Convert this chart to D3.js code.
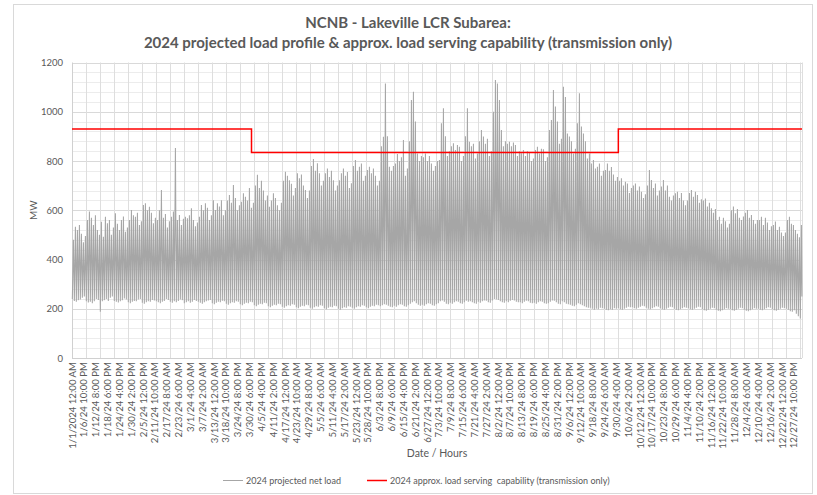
<!DOCTYPE html>
<html>
<meta charset="utf-8">
<head>
  <script src="https://d3js.org/d3.v7.js"></script>
  <style>
    body { margin: 0; background: #fff; }
    text { font-family: Lato, "Open Sans", sans-serif; fill: #595959; }
  </style>
</head>
<body>
<svg id="chart" width="817" height="495"></svg>
<script>
// hourly axis labels, one every 142 hours
var tickLabels = ["1/1/2024 12:00 AM","1/6/24 10:00 PM","1/12/24 8:00 PM","1/18/24 6:00 PM","1/24/24 4:00 PM","1/30/24 2:00 PM",
  "2/5/24 12:00 PM","2/11/24 10:00 AM","2/17/24 8:00 AM","2/23/24 6:00 AM","3/1/24 4:00 AM","3/7/24 2:00 AM",
  "3/13/24 12:00 AM","3/18/24 10:00 PM","3/24/24 8:00 PM","3/30/24 6:00 PM","4/5/24 4:00 PM","4/11/24 2:00 PM",
  "4/17/24 12:00 PM","4/23/24 10:00 AM","4/29/24 8:00 AM","5/5/24 6:00 AM","5/11/24 4:00 AM","5/17/24 2:00 AM",
  "5/23/24 12:00 AM","5/28/24 10:00 PM","6/3/24 8:00 PM","6/9/24 6:00 PM","6/15/24 4:00 PM","6/21/24 2:00 PM",
  "6/27/24 12:00 PM","7/3/24 10:00 AM","7/9/24 8:00 AM","7/15/24 6:00 AM","7/21/24 4:00 AM","7/27/24 2:00 AM",
  "8/2/24 12:00 AM","8/7/24 10:00 PM","8/13/24 8:00 PM","8/19/24 6:00 PM","8/25/24 4:00 PM","8/31/24 2:00 PM",
  "9/6/24 12:00 PM","9/12/24 10:00 AM","9/18/24 8:00 AM","9/24/24 6:00 AM","9/30/24 4:00 AM","10/6/24 2:00 AM",
  "10/12/24 12:00 AM","10/17/24 10:00 PM","10/23/24 8:00 PM","10/29/24 6:00 PM","11/4/24 4:00 PM","11/10/24 2:00 PM",
  "11/16/24 12:00 PM","11/22/24 10:00 AM","11/28/24 8:00 AM","12/4/24 6:00 AM","12/10/24 4:00 AM","12/16/24 2:00 AM",
  "12/22/24 12:00 AM","12/27/24 10:00 PM"];
var labelStep = 142;   // hours between labels
var gridStep = 168;    // hours between vertical gridlines
var totalHours = 8760;

// daily peak load (MW), one row of 7 days per week
var dailyPeak = [
  480,533,520,540,505,470,495, 560,595,570,540,580,520,500, 553,492,574,547,560,500,530,
  588,545,520,560,575,513,530, 560,601,580,574,590,540,555, 621,628,600,614,590,547,570,
  560,600,682,570,585,530,555, 574,595,853,560,581,540,565, 574,567,580,608,560,535,550,
  574,621,600,628,610,560,580, 641,601,628,615,641,580,600, 640,662,630,703,650,600,620,
  635,669,655,640,690,610,630, 700,744,690,720,680,640,660, 614,640,669,650,620,600,630,
  720,756,740,722,708,660,690, 750,730,745,700,682,650,680, 780,808,760,791,750,700,720,
  750,770,735,760,722,680,700, 722,750,770,740,755,690,710, 780,804,760,777,790,720,740,
  763,777,750,770,740,700,720, 860,898,1115,900,777,760,780, 790,828,800,815,885,740,770,
  880,1048,1081,960,830,800,820, 815,830,800,820,790,760,780, 800,804,953,1014,900,820,840,
  860,872,845,865,858,800,820, 900,1014,878,860,870,810,830, 880,926,899,870,890,820,840,
  1000,1129,1115,1048,926,860,880, 870,878,860,875,865,820,840, 831,845,820,840,835,800,810,
  845,858,830,850,848,800,815, 926,966,1088,1021,960,870,890, 1102,1060,912,899,880,830,850,
  953,1075,940,912,880,810,830, 790,804,770,777,790,740,760, 763,790,760,776,745,720,735,
  720,730,700,716,709,670,690, 700,709,680,696,675,650,665, 700,763,723,690,709,660,680,
  696,723,680,700,655,640,660, 669,675,650,670,640,620,640, 670,682,655,675,662,630,645,
  640,648,615,630,608,590,605, 560,574,545,570,555,530,545, 600,615,588,605,570,560,575,
  590,601,570,581,560,545,560, 560,574,540,570,550,520,535, 540,554,520,533,510,495,510,
  560,574,545,540,520,505,490, 540
];

// daily minimum load (MW)
var dailyLow = [
  240,232,228,235,238,245,250, 230,225,228,222,230,240,236, 188,230,235,240,232,245,250,
  232,228,225,230,235,242,238, 226,222,228,232,230,238,240, 224,220,226,230,228,236,234,
  230,226,222,228,232,240,236, 228,224,230,226,232,238,235, 222,226,230,224,228,236,232,
  228,224,220,226,230,234,236, 222,218,224,228,226,232,230, 220,216,222,226,224,230,228,
  218,214,220,224,222,228,226, 214,210,216,220,218,224,222, 210,206,212,216,214,220,218,
  208,204,210,214,212,218,216, 206,202,208,212,210,216,214, 204,200,206,210,208,214,212,
  202,198,204,208,206,212,210, 200,196,202,206,204,210,208, 204,200,206,210,208,214,212,
  206,202,208,212,210,216,214, 210,214,218,216,212,208,206, 212,208,214,218,216,210,208,
  214,220,226,230,222,216,212, 216,212,218,222,220,214,212, 218,222,230,234,228,220,218,
  224,220,226,230,228,222,220, 226,232,228,230,226,222,220, 228,224,230,234,232,226,224,
  234,240,238,236,230,226,224, 230,226,232,236,234,228,226, 226,222,228,232,230,224,222,
  224,220,226,230,228,222,220, 222,228,234,232,226,220,218, 230,226,220,218,216,212,210,
  216,222,218,214,210,206,204, 204,200,196,200,198,204,202, 200,196,194,198,196,202,200,
  202,198,196,200,204,208,206, 206,202,200,204,208,212,210, 204,200,198,202,206,210,208,
  202,198,196,200,204,208,206, 200,196,194,198,202,206,204, 202,198,196,200,204,208,206,
  198,194,192,196,200,204,202, 196,192,190,194,198,202,200, 198,194,192,196,200,204,202,
  196,192,190,194,198,202,200, 200,196,194,198,202,206,204, 198,194,192,196,200,204,202,
  200,196,190,188,194,180,170, 160
];
var endLoad = 250;

// approx. load serving capability, step changes (hour of year)
var capBreaks = [0, 2154, 6556, 8760];
var capValues = [930, 835, 930];

var svg = d3.select("svg#chart");
var plotLeft = 72, plotRight = 802, plotTop = 62.5, plotBottom = 358;

var x = d3.scaleLinear().domain([0, totalHours]).range([plotLeft, plotRight]);
var y = d3.scaleLinear().domain([0, 1200]).range([plotBottom, plotTop]);

// chart border
svg.append("rect").attr("x", 13.5).attr("y", 4.5).attr("width", 799).attr("height", 489)
  .attr("fill", "#fff").attr("stroke", "#d9d9d9");

// horizontal gridlines (minor every 40, major every 200)
svg.append("g").selectAll("line").data(d3.range(40, 1200, 40).filter(function(d){ return d % 200 != 0; }))
  .enter().append("line")
  .attr("x1", plotLeft).attr("x2", plotRight)
  .attr("y1", function(d){ return Math.round(y(d)) + 0.5; }).attr("y2", function(d){ return Math.round(y(d)) + 0.5; })
  .attr("stroke", "#ececec");
svg.append("g").selectAll("line").data(d3.range(200, 1201, 200))
  .enter().append("line")
  .attr("x1", plotLeft).attr("x2", plotRight)
  .attr("y1", function(d){ return Math.round(y(d)) + 0.5; }).attr("y2", function(d){ return Math.round(y(d)) + 0.5; })
  .attr("stroke", "#d9d9d9");

// vertical gridlines, weekly
var gridHours = d3.range(gridStep, totalHours, gridStep).concat([totalHours]);
svg.append("g").selectAll("line").data(gridHours)
  .enter().append("line")
  .attr("x1", function(d){ return Math.round(x(d)) + 0.5; }).attr("x2", function(d){ return Math.round(x(d)) + 0.5; })
  .attr("y1", plotTop).attr("y2", plotBottom)
  .attr("stroke", "#dedede");

// axis lines
svg.append("line").attr("x1", plotLeft + 0.5).attr("x2", plotLeft + 0.5).attr("y1", plotTop).attr("y2", plotBottom).attr("stroke", "#d0d0d0");
svg.append("line").attr("x1", plotLeft).attr("x2", plotRight).attr("y1", plotBottom + 0.5).attr("y2", plotBottom + 0.5).attr("stroke", "#d0d0d0");

// y axis
var yAxis = d3.axisLeft(y).tickValues(d3.range(0, 1201, 200)).tickFormat(d3.format("d")).tickSize(0).tickPadding(9);
var gy = svg.append("g").attr("transform", "translate(" + plotLeft + ",0)").call(yAxis);
gy.select(".domain").remove();
gy.selectAll("text").style("font-size", "9.5px").attr("fill", "#595959").style("font-family", "Lato, sans-serif");

// x axis labels
var xAxis = d3.axisBottom(x)
  .tickValues(tickLabels.map(function(d, i){ return i * labelStep; }))
  .tickFormat(function(d, i){ return tickLabels[i]; })
  .tickSize(0);
var gx = svg.append("g").attr("transform", "translate(0," + plotBottom + ")").call(xAxis);
gx.select(".domain").remove();
gx.selectAll("text")
  .attr("transform", "rotate(-90)")
  .attr("x", -4).attr("y", 0).attr("dy", "0.32em")
  .style("text-anchor", "end")
  .style("font-size", "9.6px").attr("fill", "#595959").style("font-family", "Lato, sans-serif");

// load series: daily low around 4 AM, peak around 5 PM
var load = [];
dailyPeak.forEach(function(p, d){
  load.push({h: d * 24 + 4, v: dailyLow[d]});
  load.push({h: d * 24 + 17, v: p});
});
load.push({h: totalHours - 1, v: endLoad});

var line = d3.line().x(function(d){ return x(d.h); }).y(function(d){ return y(d.v); });
svg.append("path").datum(load).attr("d", line)
  .attr("fill", "none").attr("stroke", "#a6a6a6").attr("stroke-width", 1.05);

// capability step line
var cap = [];
capValues.forEach(function(v, i){
  cap.push({h: capBreaks[i], v: v});
  cap.push({h: capBreaks[i + 1], v: v});
});
svg.append("path").datum(cap).attr("d", line)
  .attr("fill", "none").attr("stroke", "#ff0000").attr("stroke-width", 1.5);

// titles
svg.append("text").attr("x", 408).attr("y", 28).attr("text-anchor", "middle")
  .style("font-size", "15px").style("font-weight", "bold").text("NCNB - Lakeville LCR Subarea:");
svg.append("text").attr("x", 408).attr("y", 48).attr("text-anchor", "middle")
  .style("font-size", "15px").style("font-weight", "bold")
  .text("2024 projected load profile & approx. load serving capability (transmission only)");

svg.append("text").attr("transform", "translate(37," + ((plotTop + plotBottom) / 2) + ") rotate(-90)")
  .attr("text-anchor", "middle").style("font-size", "10px").text("MW");
svg.append("text").attr("x", 437).attr("y", 457).attr("text-anchor", "middle")
  .style("font-size", "10.5px").text("Date / Hours");

// legend
var legend = [
  {name: "2024 projected net load", color: "#a6a6a6", x: 223},
  {name: "2024 approx. load serving  capability (transmission only)", color: "#ff0000", x: 367}
];
var lg = svg.append("g").selectAll("g").data(legend).enter().append("g");
lg.append("line").attr("x1", function(d){ return d.x; }).attr("x2", function(d){ return d.x + 20; })
  .attr("y1", 480.5).attr("y2", 480.5).attr("stroke", function(d){ return d.color; })
  .attr("stroke-width", function(d, i){ return i ? 1.5 : 1; });
lg.append("text").attr("x", function(d){ return d.x + 23; }).attr("y", 483.5)
  .style("font-size", "9px").style("white-space", "pre").text(function(d){ return d.name; });
</script>
</body>
</html>
